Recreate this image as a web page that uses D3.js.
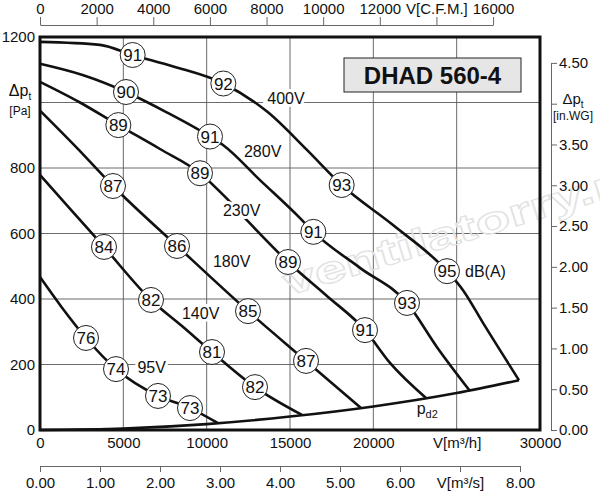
<!DOCTYPE html>
<html><head><meta charset="utf-8">
<script src="https://cdn.jsdelivr.net/npm/d3@7"></script>
<style>
body{margin:0;background:#fff}
text{font-family:"Liberation Sans",Arial,Helvetica,sans-serif;fill:#111}
</style>
</head><body>
<svg id="chart" width="600" height="500"></svg>
<script>
// ---------- data ----------
const flowTicks=[0,5000,10000,15000,20000,25000,30000];
const flowTickLabels=["0","5000","10000","15000","20000","V[m³/h]","30000"];
const pressTicks=[0,200,400,600,800,1000,1200];
const pressTickLabels=["0","200","400","600","800","","1200"];
const cfmTicks=[0,2000,4000,6000,8000,10000,12000,14000,16000];
const cfmTickLabels=["0","2000","4000","6000","8000","10000","12000","V[C.F.M.]","16000"];
const m3sTicks=[0,1,2,3,4,5,6,7,8];
const m3sTickLabels=["0.00","1.00","2.00","3.00","4.00","5.00","6.00","V[m³/s]","8.00"];
const inwgTicks=[0,0.5,1,1.5,2,2.5,3,3.5,4,4.5];
const inwgTickLabels=["0.00","0.50","1.00","1.50","2.00","2.50","3.00","3.50","","4.50"];

// speed curves: [flow m3/h, pressure Pa]
const curve400=[[0,1185],[3600,1176],[5560,1145],[8000,1110],[11000,1058],[13680,970],[16000,856],[18100,748],[21200,625],[24420,485],[25380,427],[26580,327],[28740,152]];
const curve280=[[0,1118],[2600,1083],[5160,1032],[7600,970],[10200,896],[10980,870],[13200,763],[15600,647],[16400,605],[19200,495],[22020,388],[23820,253],[25800,119]];
const curve230=[[0,1063],[2400,1000],[4700,931],[7200,858],[9600,784],[11200,707],[12500,636],[14880,513],[17200,410],[19500,305],[21000,205],[23160,98]];
const curve180=[[0,975],[2200,862],[4380,745],[8220,562],[12480,363],[15960,211],[19260,67]];
const curve140=[[0,779],[1900,670],[3840,559],[6660,397],[8500,318],[10320,238],[12900,131],[15720,46]];
const curve95=[[0,467],[1300,375],[2760,281],[4560,186],[7080,104],[9000,67],[10680,21]];
const curvePd2=[[0,0],[5000,4.5],[10000,18],[15000,41],[20000,72],[25000,113],[28740,152]];

const speedCurves=[curve400,curve280,curve230,curve180,curve140,curve95];
const speedNames=["400V","280V","230V","180V","140V","95V"];
const speedLabelPos=[[14760,1014],[13360,850],[12100,672],[11500,516],[9640,356],[6700,193]];

// noise level circles: [flow, pressure, dB(A)]
const noise400=[[5560,1145,91],[11000,1058,92],[18100,748,93],[24420,485,95]];
const noise280=[[5160,1032,90],[10200,896,91],[16400,605,91],[22020,388,93]];
const noise230=[[4700,931,89],[9600,784,89],[14880,513,89],[19500,305,91]];
const noise180=[[4380,745,87],[8220,562,86],[12480,363,85],[15960,211,87]];
const noise140=[[3840,559,84],[6660,397,82],[10320,238,81],[12900,131,82]];
const noise95=[[2760,281,76],[4560,186,74],[7080,104,73],[9000,67,73]];
const noiseAll=[noise400,noise280,noise230,noise180,noise140,noise95];

const title="DHAD 560-4";

// ---------- scales ----------
const svg=d3.select("#chart");
const x=d3.scaleLinear().domain([0,30000]).range([40,540]);
const y=d3.scaleLinear().domain([0,1200]).range([430,37]);
const xCfm=d3.scaleLinear().domain([0,16000]).range([x(0),x(16000*1.699)]);
const xM3s=d3.scaleLinear().domain([0,8]).range([x(0),x(8*3600)]);
const yIn=d3.scaleLinear().domain([0,4.5]).range([y(0),y(4.5*249.09)]);

// ---------- grid ----------
const grid=svg.append("g").attr("stroke","#5a5a5a").attr("stroke-width",0.9);
grid.selectAll("line.v").data(flowTicks.slice(1,-1)).join("line")
  .attr("x1",d=>x(d)).attr("x2",d=>x(d)).attr("y1",y(0)).attr("y2",y(1200));
grid.selectAll("line.h").data(pressTicks.slice(1,-1)).join("line").attr("class","h")
  .attr("x1",x(0)).attr("x2",x(30000)).attr("y1",d=>y(d)).attr("y2",d=>y(d));

// watermark
svg.append("text").attr("x",288).attr("y",296)
  .attr("transform","rotate(-17,288,296)")
  .attr("font-size",38).attr("font-weight","bold")
  .attr("textLength",380).attr("lengthAdjust","spacingAndGlyphs")
  .style("fill","none").attr("stroke","#e2e2e2").attr("stroke-width",1.2)
  .text("ventilatorry.ru");

// ---------- curves ----------
const line=d3.line().x(d=>x(d[0])).y(d=>y(d[1])).curve(d3.curveMonotoneX);
svg.append("g").attr("fill","none").attr("stroke","#111").attr("stroke-width",2.6)
  .attr("stroke-linejoin","round")
  .selectAll("path").data(speedCurves.concat([curvePd2])).join("path").attr("d",line);

// speed labels with white halo
svg.append("g").selectAll("text").data(speedNames).join("text")
  .attr("x",(d,i)=>x(speedLabelPos[i][0])).attr("y",(d,i)=>y(speedLabelPos[i][1]))
  .attr("text-anchor","middle").attr("dy","0.36em").attr("font-size",16)
  .attr("stroke","#fff").attr("stroke-width",6).attr("paint-order","stroke")
  .text(d=>d);

// noise circles
const circ=svg.append("g").selectAll("g").data(noiseAll.flat()).join("g")
  .attr("transform",d=>`translate(${x(d[0])},${y(d[1])})`);
circ.append("circle").attr("r",12.5).attr("fill","#fff").attr("stroke","#222").attr("stroke-width",1);
circ.append("text").attr("text-anchor","middle").attr("dy","0.36em").attr("font-size",17)
  .text(d=>d[2]);
svg.append("text").attr("x",x(noise400[3][0])+18).attr("y",y(noise400[3][1]))
  .attr("dy","0.36em").attr("font-size",16).text("dB(A)");

// pd2 label
const pd=svg.append("text").attr("x",x(22600)).attr("y",y(50)).attr("font-size",16);
pd.append("tspan").text("p");
pd.append("tspan").attr("font-size",11).attr("dy",4).text("d2");

// ---------- frame ----------
svg.append("rect").attr("x",x(0)).attr("y",y(1200)).attr("width",x(30000)-x(0)).attr("height",y(0)-y(1200))
  .attr("fill","none").attr("stroke","#111").attr("stroke-width",3);

// title box
svg.append("rect").attr("x",344).attr("y",58).attr("width",177).attr("height",34)
  .attr("fill","#e6e6e6").attr("stroke","#222").attr("stroke-width",1);
svg.append("text").attr("x",432.5).attr("y",75).attr("dy","0.36em").attr("text-anchor","middle")
  .attr("font-size",24).attr("font-weight","bold").text(title);

// ---------- axes ----------
function styleAxis(g,fs){
  g.selectAll("text").attr("font-size",fs).attr("font-family",'"Liberation Sans",Arial,sans-serif').style("fill","#111");
  g.selectAll("line,path").attr("stroke","#666");
}
// left
const gl=svg.append("g").attr("transform",`translate(${x(0)-2},0)`)
  .call(d3.axisLeft(y).tickValues(pressTicks).tickFormat((d,i)=>pressTickLabels[i]).tickSize(0).tickPadding(3));
gl.select(".domain").remove(); styleAxis(gl,15);
// bottom m3/h
const gb=svg.append("g").attr("transform",`translate(0,${y(0)+2})`)
  .call(d3.axisBottom(x).tickValues(flowTicks).tickFormat((d,i)=>flowTickLabels[i]).tickSize(0).tickPadding(5));
gb.select(".domain").remove(); styleAxis(gb,15);
// bottom m3/s
const gs=svg.append("g").attr("transform","translate(0,466)")
  .call(d3.axisBottom(xM3s).tickValues(m3sTicks).tickFormat((d,i)=>m3sTickLabels[i]).tickSize(6).tickSizeOuter(0).tickPadding(5));
styleAxis(gs,15);
// top CFM
const gt=svg.append("g").attr("transform","translate(0,25)")
  .call(d3.axisTop(xCfm).tickValues(cfmTicks).tickFormat((d,i)=>cfmTickLabels[i]).tickSize(8).tickSizeOuter(0).tickPadding(3));
styleAxis(gt,15);
// right in.WG
const gr=svg.append("g").attr("transform","translate(551,0)")
  .call(d3.axisRight(yIn).tickValues(inwgTicks).tickFormat((d,i)=>inwgTickLabels[i]).tickSize(6).tickSizeOuter(0).tickPadding(2));
styleAxis(gr,15);

// axis titles
const lt=svg.append("text").attr("x",20).attr("y",96).attr("text-anchor","middle").attr("font-size",16);
lt.append("tspan").text("Δp"); lt.append("tspan").attr("font-size",10).attr("dy",4).text("t");
svg.append("text").attr("x",20).attr("y",111).attr("dy","0.36em").attr("text-anchor","middle").attr("font-size",12).text("[Pa]");
const rt=svg.append("text").attr("x",573).attr("y",104).attr("text-anchor","middle").attr("font-size",15);
rt.append("tspan").text("Δp"); rt.append("tspan").attr("font-size",10).attr("dy",4).text("t");
svg.append("text").attr("x",573).attr("y",116).attr("dy","0.36em").attr("text-anchor","middle").attr("font-size",12).text("[in.WG]");
</script>
</body></html>
